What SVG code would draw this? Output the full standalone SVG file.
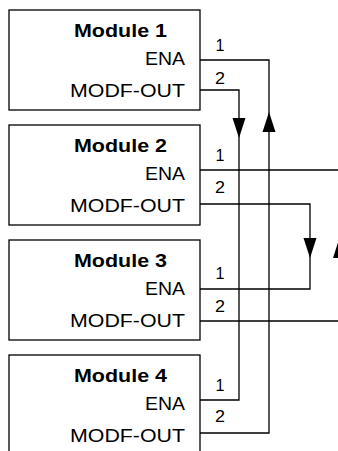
<svg xmlns="http://www.w3.org/2000/svg" width="338" height="451" viewBox="0 0 338 451">
<style>
.box{fill:#fff;stroke:#000;stroke-width:1.3}
.t{font-family:"Liberation Sans",Arial,sans-serif;fill:#000}
.title{font-size:18px;font-weight:bold;text-anchor:middle}
.port{font-size:18px;text-anchor:end}
.num{font-size:16px;text-anchor:middle}
.wire{fill:none;stroke:#000;stroke-width:1.3}
.ah{fill:#000;stroke:none}
</style>
<rect width="338" height="451" fill="#fff"/>
<g id="connectors">
<path class="wire" d="M200,90 H239 V400 H200"/>
<path class="wire" d="M200,433 H269 V60 H200"/>
<path class="wire" d="M200,204 H310 V289 H200"/>
<path class="wire" d="M200,170 H338"/>
<path class="wire" d="M200,321 H338"/>
<polygon class="ah" points="239,138 232.5,118 245.5,118"/>
<polygon class="ah" points="269,112 262.5,132 275.5,132"/>
<polygon class="ah" points="310,258 303.5,238 316.5,238"/>
<polygon class="ah" points="339.5,238 333,258 346,258"/>
<g class="t num">
<text x="220" y="50.5" textLength="9" lengthAdjust="spacingAndGlyphs">1</text>
<text x="220" y="83.5" textLength="10" lengthAdjust="spacingAndGlyphs">2</text>
<text x="220" y="160.5" textLength="9" lengthAdjust="spacingAndGlyphs">1</text>
<text x="220" y="193" textLength="10" lengthAdjust="spacingAndGlyphs">2</text>
<text x="220" y="278.5" textLength="9" lengthAdjust="spacingAndGlyphs">1</text>
<text x="220" y="312" textLength="10" lengthAdjust="spacingAndGlyphs">2</text>
<text x="220" y="390.5" textLength="9" lengthAdjust="spacingAndGlyphs">1</text>
<text x="220" y="422" textLength="10" lengthAdjust="spacingAndGlyphs">2</text>
</g>
</g>
<g id="module1">
<rect class="box" x="9" y="10" width="191" height="100"/>
<text class="t title" x="120.5" y="37" textLength="93" lengthAdjust="spacingAndGlyphs">Module 1</text>
<text class="t port" x="185" y="65" textLength="40" lengthAdjust="spacingAndGlyphs">ENA</text>
<text class="t port" x="185" y="97" textLength="115" lengthAdjust="spacingAndGlyphs">MODF-OUT</text>
</g>
<g id="module2">
<rect class="box" x="9" y="125" width="191" height="100"/>
<text class="t title" x="120.5" y="152" textLength="93" lengthAdjust="spacingAndGlyphs">Module 2</text>
<text class="t port" x="185" y="180" textLength="40" lengthAdjust="spacingAndGlyphs">ENA</text>
<text class="t port" x="185" y="212" textLength="115" lengthAdjust="spacingAndGlyphs">MODF-OUT</text>
</g>
<g id="module3">
<rect class="box" x="9" y="240" width="191" height="100"/>
<text class="t title" x="120.5" y="267" textLength="93" lengthAdjust="spacingAndGlyphs">Module 3</text>
<text class="t port" x="185" y="295" textLength="40" lengthAdjust="spacingAndGlyphs">ENA</text>
<text class="t port" x="185" y="327" textLength="115" lengthAdjust="spacingAndGlyphs">MODF-OUT</text>
</g>
<g id="module4">
<rect class="box" x="9" y="355" width="191" height="110"/>
<text class="t title" x="120.5" y="382" textLength="93" lengthAdjust="spacingAndGlyphs">Module 4</text>
<text class="t port" x="185" y="410" textLength="40" lengthAdjust="spacingAndGlyphs">ENA</text>
<text class="t port" x="185" y="442" textLength="115" lengthAdjust="spacingAndGlyphs">MODF-OUT</text>
</g>
</svg>
